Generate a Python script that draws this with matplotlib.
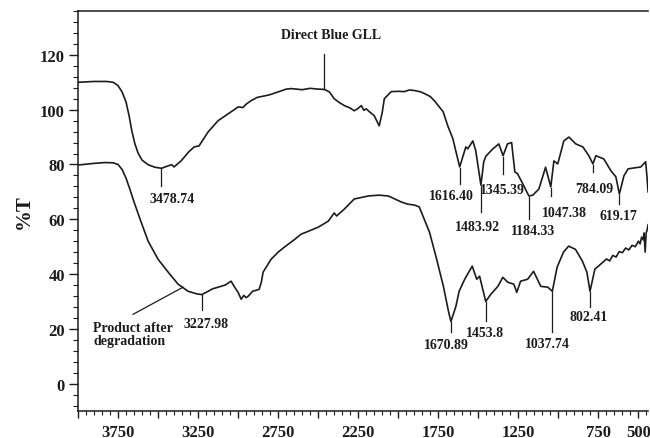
import numpy as np
import matplotlib.pyplot as plt
from matplotlib.ticker import MultipleLocator, FixedLocator

# FTIR spectrum of the dye (Direct Blue GLL)
wn_dye = [4000, 3900, 3820, 3780, 3750, 3725, 3700, 3681, 3665, 3645, 3625,
          3600, 3562, 3520, 3478.74, 3437, 3415, 3400, 3356, 3310, 3275, 3244,
          3187, 3125, 3062, 3000, 2970, 2950, 2919, 2880, 2837, 2800, 2750,
          2700, 2669, 2600, 2550, 2500, 2462, 2430, 2400, 2370, 2337, 2300,
          2275, 2250, 2231, 2215, 2200, 2181, 2150, 2119, 2100, 2087, 2044,
          2000, 1962, 1930, 1900, 1860, 1837, 1800, 1775, 1720, 1690, 1659,
          1616.40, 1578, 1566, 1534, 1516, 1483.92, 1466, 1453, 1409, 1372,
          1345.39, 1318, 1292, 1272, 1255, 1222, 1184.33, 1160, 1122, 1080,
          1047.38, 1028, 1004, 966, 934, 891, 847, 810, 784.09, 766, 716, 672,
          641, 619.17, 591, 565, 485, 455, 446, 440]
t_dye = [110.0, 110.3, 110.3, 110.0, 108.8, 106.5, 102.8, 97.8, 92.6, 87.6, 84.2,
         81.6, 79.9, 79.0, 78.6, 79.5, 79.9, 79.1, 81.3, 84.5, 86.4, 86.8,
         91.9, 96.0, 98.5, 101.0, 100.8, 102.0, 103.3, 104.5, 105.0, 105.5, 106.5,
         107.5, 107.7, 107.3, 107.8, 107.5, 107.4, 106.5, 104.0, 102.7, 101.5, 100.6,
         99.6, 100.5, 101.5, 99.8, 100.3, 99.3, 97.8, 94.1, 99.0, 104.0, 106.6,
         106.7, 106.6, 107.2, 107.0, 106.5, 105.9, 104.8, 103.3, 99.3, 94.0, 89.4,
         79.1, 86.4, 85.7, 88.6, 85.0, 72.5, 81.0, 83.0, 85.7, 87.5,
         83.2, 87.5, 88.0, 77.3, 76.6, 72.9, 68.5, 68.8, 71.0, 79.0,
         71.8, 81.3, 80.2, 88.6, 90.0, 87.5, 86.4, 83.2, 80.2, 83.2, 82.0, 77.7,
         75.5, 69.2, 75.8, 78.4, 79.1, 81.0, 75.0, 70.0]

# FTIR spectrum of the product after degradation
wn_prod = [4000, 3900, 3830, 3780, 3750, 3725, 3700, 3675, 3650, 3606, 3562,
           3500, 3437, 3375, 3312, 3260, 3227.98, 3187, 3160, 3125, 3080, 3044,
           3025, 3000, 2981, 2965, 2950, 2937, 2910, 2869, 2855, 2844, 2794,
           2750, 2712, 2650, 2606, 2587, 2500, 2437, 2400, 2385, 2337, 2275,
           2187, 2120, 2062, 1981, 1940, 1900, 1869, 1805, 1765, 1718, 1685,
           1670.89, 1640, 1620, 1585, 1538, 1510, 1492, 1453.8, 1422, 1378,
           1347, 1316, 1278, 1260, 1236, 1192, 1155, 1110, 1066, 1037.74, 1008,
           968, 936, 893, 850, 822, 802.41, 772, 722, 700, 680, 660, 640, 620,
           600, 580, 560, 540, 520, 500, 490, 480, 470, 465, 458, 452, 446, 440]
t_prod = [79.8, 80.4, 80.7, 80.6, 80.0, 78.2, 75.0, 70.8, 66.3, 59.0, 52.0,
          45.4, 40.7, 36.3, 33.7, 32.8, 32.5, 33.7, 34.6, 35.2, 36.0, 37.4,
          35.5, 33.3, 30.8, 32.2, 31.4, 31.9, 33.7, 34.4, 37.0, 40.7, 45.4,
          48.0, 49.8, 52.5, 54.6, 55.0, 57.1, 59.3, 62.3, 61.2, 63.7, 67.4,
          68.5, 68.8, 68.5, 66.3, 65.5, 65.2, 64.5, 55.3, 46.5, 35.5, 26.0,
          22.7, 28.2, 33.7, 38.1, 42.9, 38.1, 39.2, 30.0, 32.6, 35.5,
          38.8, 37.0, 36.3, 33.3, 37.4, 38.1, 41.0, 35.5, 35.2, 33.7, 42.5,
          48.0, 50.2, 49.0, 44.7, 40.7, 33.7, 41.8, 44.3, 45.5, 44.8, 46.8, 46.2, 48.2,
          47.8, 49.5, 48.8, 50.5, 50.0, 52.0, 51.0, 53.5, 52.5, 55.0, 48.0, 55.0, 56.0, 58.0]

# peak labels: value, end of marker, label position
dye_peaks = ['3478.74', '1616.40', '1483.92', '1345.39', '1184.33', '1047.38', '784.09', '619.17']
dye_mark_end = [72.2, 73.0, 62.6, 76.5, 60.0, 68.5, 77.3, 65.5]
dye_label_x = [3412, 1669, 1506, 1350, 1156, 962, 775, 625]
dye_label_y = [67.4, 68.5, 57.5, 71.0, 56.0, 62.6, 71.4, 61.5]

prod_peaks = ['3227.98', '1670.89', '1453.8', '1037.74', '802.41']
prod_mark_end = [27.0, 18.7, 22.7, 19.0, 27.8]
prod_label_x = [3200, 1700, 1456, 1069, 812]
prod_label_y = [22.0, 14.3, 18.7, 14.6, 24.5]

xtick_major = [4000, 3750, 3500, 3250, 3000, 2750, 2500, 2250, 2000, 1750,
               1500, 1250, 1000, 750, 500]
xtick_labeled = [3750, 3250, 2750, 2250, 1750, 1250, 750, 500]

plt.rcParams['font.family'] = 'Liberation Serif'
plt.rcParams['font.weight'] = 'bold'

fig = plt.figure(figsize=(6.5, 4.39), dpi=100)
ax = fig.add_axes([0.12, 0.0615, 0.877, 0.911])

ink = '#1c1c1c'
ax.plot(wn_dye, t_dye, color=ink, lw=1.2)
ax.plot(wn_prod, t_prod, color=ink, lw=1.2)


def mark_peaks(wn, t, peaks, ends, lx, ly):
    wn_r = np.array(wn)[::-1]
    t_r = np.array(t)[::-1]
    for p, e, x, y in zip(peaks, ends, lx, ly):
        v = float(p)
        top = np.interp(v, wn_r, t_r)
        ax.plot([v, v], [top - 0.3, e], color=ink, lw=0.9)
        ax.text(x, y, p, ha='center', va='center', fontsize=10,
                fontweight='bold', color=ink)


mark_peaks(wn_dye, t_dye, dye_peaks, dye_mark_end, dye_label_x, dye_label_y)
mark_peaks(wn_prod, t_prod, prod_peaks, prod_mark_end, prod_label_x, prod_label_y)

# curve names
ax.plot([2462, 2462], [107.7, 120.5], color=ink, lw=0.9)
ax.text(2419, 127.5, 'Direct Blue GLL', ha='center', va='center',
        fontsize=10, fontweight='bold', color=ink)
ax.plot([3656, 3344], [25.3, 35.2], color=ink, lw=0.9)
ax.text(3906, 18, 'Product after\ndegradation', ha='left', va='center',
        fontsize=10, fontweight='bold', color=ink, linespacing=1.0)

ax.set_xlim(4000, 440)
ax.set_ylim(-10, 136)

ax.xaxis.set_major_locator(FixedLocator(xtick_major))
ax.set_xticklabels([str(v) if v in xtick_labeled else '' for v in xtick_major])
ax.xaxis.set_minor_locator(MultipleLocator(50))
ax.yaxis.set_minor_locator(MultipleLocator(4))
ax.set_yticks([0, 20, 40, 60, 80, 100, 120])

ax.tick_params(axis='x', which='major', length=5, width=1, pad=4,
               labelsize=12, colors=ink)
ax.tick_params(axis='x', which='minor', length=3, width=0.8, colors=ink)
ax.tick_params(axis='y', which='major', length=6.5, width=1, pad=3,
               labelsize=12, colors=ink)
ax.tick_params(axis='y', which='minor', length=3.4, width=0.8, colors=ink)
for lab in ax.get_xticklabels() + ax.get_yticklabels():
    lab.set_fontweight('bold')

ax.spines['right'].set_visible(False)
for s in ['left', 'bottom', 'top']:
    ax.spines[s].set_linewidth(1.1)
    ax.spines[s].set_color(ink)

ax.set_ylabel('%T', fontsize=15, fontweight='bold', color=ink, labelpad=4)

fig.savefig('out.png', dpi=100)
